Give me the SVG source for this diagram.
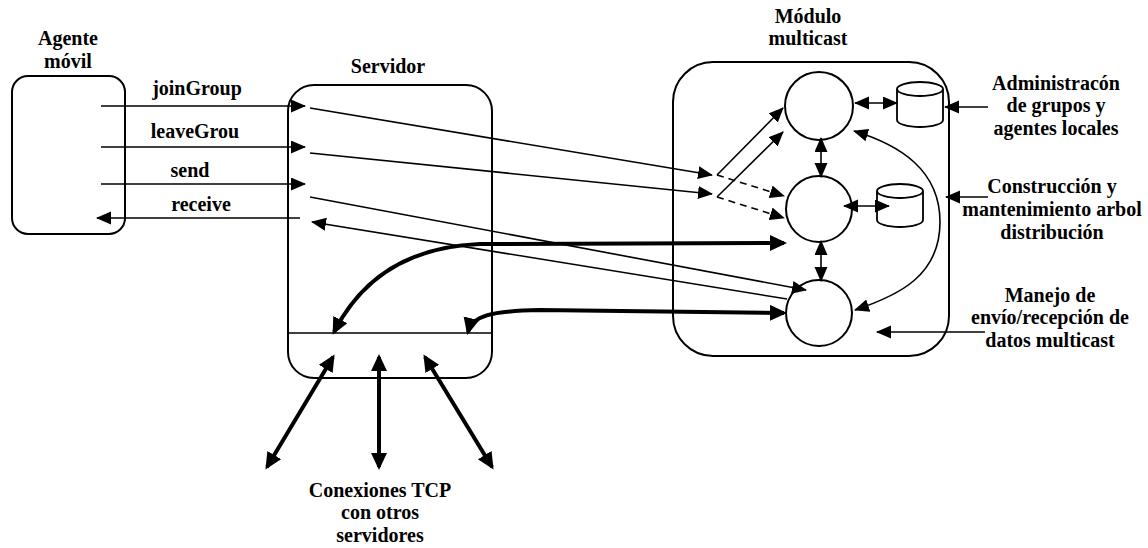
<svg xmlns="http://www.w3.org/2000/svg" width="1148" height="548" viewBox="0 0 1148 548">
  <style>
    text { font-family: "Liberation Serif", "Times New Roman", serif; font-weight: bold; font-size: 20px; fill: #000; text-anchor: middle; }
    .box { fill: #fff; stroke: #000; stroke-width: 2; }
    .thin { fill: none; stroke: #000; stroke-width: 1.6; }
    .dash { fill: none; stroke: #000; stroke-width: 1.6; stroke-dasharray: 7 5; }
    .thick { fill: none; stroke: #000; stroke-width: 4; }
    .cyl { fill: #fff; stroke: #000; stroke-width: 1.8; }
  </style>
  <defs>
    <marker id="a" markerUnits="userSpaceOnUse" markerWidth="16" markerHeight="14" refX="14" refY="6.5" orient="auto-start-reverse">
      <path d="M0,0 L15,6.5 L0,13 z" fill="#000"/>
    </marker>
    <marker id="b" markerUnits="userSpaceOnUse" markerWidth="20" markerHeight="18" refX="14" refY="8" orient="auto-start-reverse">
      <path d="M0,0 L17,8 L0,16 z" fill="#000"/>
    </marker>
  </defs>

  <!-- mobile agent -->
  <g id="agente">
    <rect class="box" x="12" y="76" width="113" height="158" rx="16"/>
    <text x="68" y="45">Agente</text>
    <text x="68" y="68">móvil</text>
  </g>

  <!-- server -->
  <g id="servidor">
    <rect class="box" x="288" y="85" width="204" height="293" rx="26"/>
    <line class="thin" x1="288" y1="333" x2="492" y2="333"/>
    <text x="388" y="73">Servidor</text>
  </g>

  <!-- multicast module -->
  <g id="modulo">
    <rect class="box" x="673" y="62" width="276" height="294" rx="40"/>
    <text x="808" y="23">Módulo</text>
    <text x="808" y="45">multicast</text>
  </g>
  <g id="proc-grupos"><circle class="box" cx="819" cy="106" r="34"/></g>
  <g id="proc-arbol"><circle class="box" cx="819" cy="209" r="33"/></g>
  <g id="proc-datos"><circle class="box" cx="819" cy="313" r="33"/></g>
  <g id="bd-grupos">
    <path class="cyl" d="M897,89 L897,120 A23,7 0 0 0 943,120 L943,89"/>
    <ellipse class="cyl" cx="920" cy="89" rx="23" ry="7"/>
  </g>
  <g id="bd-arbol">
    <path class="cyl" d="M877,191 L877,220 A23,7 0 0 0 923,220 L923,191"/>
    <ellipse class="cyl" cx="900" cy="191" rx="23" ry="7"/>
  </g>

  <!-- side descriptions -->
  <g id="lbl-admin">
    <text x="1056" y="90">Administracón</text>
    <text x="1056" y="112">de grupos y</text>
    <text x="1056" y="135">agentes locales</text>
  </g>
  <g id="lbl-arbol">
    <text x="1052" y="193">Construcción y</text>
    <text x="1052" y="216">mantenimiento arbol</text>
    <text x="1052" y="239">distribución</text>
  </g>
  <g id="lbl-datos">
    <text x="1050" y="302">Manejo de</text>
    <text x="1050" y="324">envío/recepción de</text>
    <text x="1050" y="347">datos multicast</text>
  </g>
  <g id="lbl-tcp">
    <text x="380" y="497">Conexiones TCP</text>
    <text x="380" y="519">con otros</text>
    <text x="380" y="542">servidores</text>
  </g>

  <!-- connectors -->
  <g id="connectors">
    <!-- agent to server calls -->
    <line class="thin" x1="101" y1="106" x2="305" y2="106" marker-end="url(#a)"/>
    <line class="thin" x1="101" y1="147" x2="305" y2="147" marker-end="url(#a)"/>
    <line class="thin" x1="101" y1="184" x2="305" y2="184" marker-end="url(#a)"/>
    <line class="thin" x1="300" y1="218" x2="97" y2="218" marker-end="url(#a)"/>
    <text x="197" y="95">joinGroup</text>
    <text x="195" y="138">leaveGrou</text>
    <text x="190" y="177">send</text>
    <text x="201" y="211">receive</text>

    <!-- server to module -->
    <line class="thin" x1="310" y1="108" x2="712" y2="175" marker-end="url(#a)"/>
    <line class="thin" x1="310" y1="153" x2="712" y2="194" marker-end="url(#a)"/>
    <line class="thin" x1="310" y1="197" x2="806" y2="290" marker-end="url(#a)"/>
    <line class="thin" x1="787" y1="299" x2="312" y2="222" marker-end="url(#a)"/>

    <!-- dispatch inside module -->
    <polyline class="thin" points="783,108 717,175" marker-start="url(#a)"/>
    <polyline class="thin" points="783,132 717,197" marker-start="url(#a)"/>
    <line class="dash" x1="717" y1="175" x2="784" y2="196" marker-end="url(#a)"/>
    <line class="dash" x1="717" y1="197" x2="784" y2="218" marker-end="url(#a)"/>

    <!-- between processes and stores -->
    <line class="thin" x1="821" y1="138" x2="821" y2="177" marker-start="url(#a)" marker-end="url(#a)"/>
    <line class="thin" x1="821" y1="241" x2="821" y2="281" marker-start="url(#a)" marker-end="url(#a)"/>
    <line class="thin" x1="855" y1="103" x2="897" y2="103" marker-start="url(#a)" marker-end="url(#a)"/>
    <line class="thin" x1="844" y1="206" x2="889" y2="206" marker-start="url(#a)" marker-end="url(#a)"/>
    <path class="thin" d="M854,131 C900,145 940,170 940,222 C940,275 900,295 855,310" marker-start="url(#a)" marker-end="url(#a)"/>

    <!-- description pointers -->
    <line class="thin" x1="988" y1="107" x2="945" y2="107" marker-end="url(#a)"/>
    <line class="thin" x1="988" y1="197" x2="946" y2="197" marker-end="url(#a)"/>
    <line class="thin" x1="985" y1="332" x2="877" y2="332" marker-end="url(#a)"/>

    <!-- thick data paths -->
    <path class="thick" d="M334,332 C358,285 400,247 480,244 L784,243" marker-start="url(#b)" marker-end="url(#b)"/>
    <path class="thick" d="M468,332 C472,316 490,311 540,310 L784,313" marker-start="url(#b)" marker-end="url(#b)"/>

    <!-- TCP links -->
    <line class="thick" x1="267" y1="467" x2="333" y2="357" marker-start="url(#b)" marker-end="url(#b)"/>
    <line class="thick" x1="379" y1="467" x2="379" y2="357" marker-start="url(#b)" marker-end="url(#b)"/>
    <line class="thick" x1="492" y1="467" x2="425" y2="357" marker-start="url(#b)" marker-end="url(#b)"/>
  </g>
</svg>
